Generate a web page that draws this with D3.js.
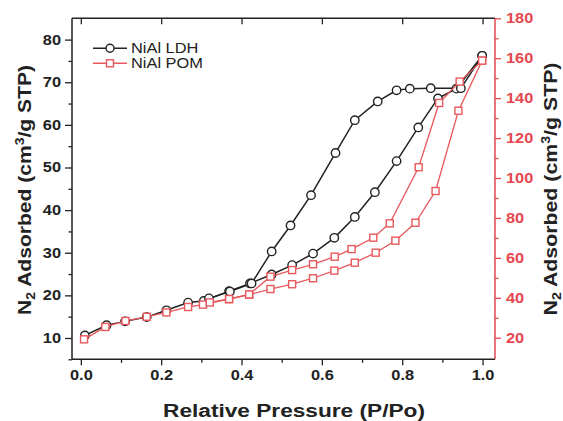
<!DOCTYPE html>
<html><head><meta charset="utf-8">
<script src="https://cdn.jsdelivr.net/npm/d3@7"></script>
<style>body{margin:0;background:#fff}svg{display:block}text{font-family:"Liberation Sans",Arial,Helvetica,sans-serif}</style>
</head><body><svg id="c" width="563" height="421"></svg>
<script>
// ---- data ----
const xTickValues = [0, 0.2, 0.4, 0.6, 0.8, 1.0];
const xMinorValues = [0.1, 0.3, 0.5, 0.7, 0.9];
const leftTickValues = [10, 20, 30, 40, 50, 60, 70, 80];
const leftMinorValues = [5, 15, 25, 35, 45, 55, 65, 75, 85];
const rightTickValues = [20, 40, 60, 80, 100, 120, 140, 160, 180];
const rightMinorValues = [30, 50, 70, 90, 110, 130, 150, 170];

const seriesNames = ["NiAl LDH", "NiAl POM"];

const ldhAdsX = [0.01,0.064,0.11,0.164,0.213,0.267,0.306,0.369,0.421,0.475,0.526,0.578,0.631,0.682,0.732,0.786,0.840,0.889,0.935,0.999];
const ldhAdsY = [10.6,13.0,13.9,14.9,16.5,18.3,18.7,21.0,22.8,24.9,27.1,29.8,33.5,38.4,44.2,51.5,59.4,66.2,68.5,76.2];
const ldhDesX = [0.999,0.946,0.871,0.819,0.786,0.739,0.682,0.634,0.573,0.522,0.475,0.425,0.371,0.319];
const ldhDesY = [76.2,68.6,68.6,68.5,68.1,65.5,61.1,53.4,43.5,36.4,30.3,22.8,20.9,19.3];

const pomAdsX = [0.008,0.061,0.111,0.164,0.213,0.267,0.304,0.369,0.419,0.472,0.526,0.578,0.631,0.682,0.734,0.783,0.833,0.883,0.940,0.999];
const pomAdsY = [19.2,25.4,28.4,30.5,32.7,35.4,36.6,39.3,41.6,44.4,46.8,49.8,53.6,57.6,62.6,68.6,77.6,93.5,133.7,158.8];
const pomDesX = [0.999,0.943,0.892,0.841,0.769,0.728,0.674,0.632,0.578,0.526,0.472,0.419,0.369,0.321];
const pomDesY = [158.8,148.3,137.6,105.4,77.3,70.1,64.4,60.6,56.8,53.9,50.6,41.7,39.4,37.7];

// ---- layout ----
const L = 72, R = 495, T = 18.3, B = 359.3;
const BLACK = "#222", RED = "#e5484f", RED_LINE = "#e8585c";
const svg = d3.select("#c");

const x = d3.scaleLinear().domain([-0.022, 1.031]).range([L, R]);
const yL = d3.scaleLinear().domain([5, 85]).range([B, T]);
const yR = d3.scaleLinear().domain([9.2, 180]).range([B, T]);

const fmt1 = d3.format(".1f");

// bottom axis
const gB = svg.append("g").attr("transform", `translate(0,${B})`)
  .call(d3.axisBottom(x).tickValues(xTickValues).tickFormat(fmt1).tickSize(6).tickPadding(5));
svg.append("g").attr("transform", `translate(0,${B})`)
  .call(d3.axisBottom(x).tickValues(xMinorValues).tickFormat("").tickSize(3.5));
// top ticks (inward)
svg.append("g").attr("transform", `translate(0,${T})`)
  .call(d3.axisBottom(x).tickValues(xTickValues).tickFormat("").tickSize(6));
// left axis
svg.append("g").attr("transform", `translate(${L},0)`)
  .call(d3.axisLeft(yL).tickValues(leftTickValues).tickFormat(d3.format("d")).tickSize(7).tickPadding(4));
svg.append("g").attr("transform", `translate(${L},0)`)
  .call(d3.axisLeft(yL).tickValues(leftMinorValues.filter(v=>v<85)).tickFormat("").tickSize(3.5));
// right axis
const gR = svg.append("g").attr("transform", `translate(${R},0)`)
  .call(d3.axisRight(yR).tickValues(rightTickValues).tickFormat(d3.format("d")).tickSize(6).tickPadding(5));
svg.append("g").attr("transform", `translate(${R},0)`)
  .call(d3.axisRight(yR).tickValues(rightMinorValues).tickFormat("").tickSize(3.5));

svg.selectAll(".domain").remove();
svg.selectAll(".tick line").attr("stroke", BLACK).attr("stroke-width", 1.3);
svg.selectAll(".tick text").attr("font-size", 14).attr("font-weight", "bold").attr("fill", BLACK);
gR.selectAll(".tick text").attr("fill", RED);
svg.selectAll("g").filter(function(){ return this.getAttribute("transform")===`translate(${R},0)`; })
  .selectAll(".tick line").attr("stroke", RED);

// frame lines
svg.append("line").attr("x1", L).attr("x2", R).attr("y1", T).attr("y2", T).attr("stroke", BLACK).attr("stroke-width", 1.5);
svg.append("line").attr("x1", L).attr("x2", R).attr("y1", B).attr("y2", B).attr("stroke", BLACK).attr("stroke-width", 1.5);
svg.append("line").attr("x1", L).attr("x2", L).attr("y1", T).attr("y2", B).attr("stroke", BLACK).attr("stroke-width", 1.5);
svg.append("line").attr("x1", R).attr("x2", R).attr("y1", T).attr("y2", B).attr("stroke", RED).attr("stroke-width", 1.5);

// series
function drawLine(xs, ys, ys_scale, color, w) {
  const pts = xs.map((v,i)=>[x(v), ys_scale(ys[i])]);
  svg.append("path").attr("d", d3.line()(pts)).attr("fill","none").attr("stroke",color).attr("stroke-width",w);
  return pts;
}
function circles(xs, ys) {
  svg.append("g").selectAll("circle").data(xs.map((v,i)=>[v,ys[i]])).join("circle")
    .attr("cx", d=>x(d[0])).attr("cy", d=>yL(d[1])).attr("r", 4.2)
    .attr("fill","#fff").attr("stroke", BLACK).attr("stroke-width",1.4);
}
function squares(xs, ys) {
  const s = 7;
  svg.append("g").selectAll("rect").data(xs.map((v,i)=>[v,ys[i]])).join("rect")
    .attr("x", d=>x(d[0])-s/2).attr("y", d=>yR(d[1])-s/2).attr("width", s).attr("height", s)
    .attr("fill","#fff").attr("stroke", RED_LINE).attr("stroke-width",1.4);
}
drawLine(ldhAdsX, ldhAdsY, yL, BLACK, 1.5);
drawLine(ldhDesX, ldhDesY, yL, BLACK, 1.5);
circles(ldhAdsX, ldhAdsY);
circles(ldhDesX, ldhDesY);
drawLine(pomAdsX, pomAdsY, yR, RED_LINE, 1.3);
drawLine(pomDesX, pomDesY, yR, RED_LINE, 1.3);
squares(pomAdsX, pomAdsY);
squares(pomDesX, pomDesY);

// legend
const lg = svg.append("g");
[[48.3, BLACK, "c"], [63.3, RED_LINE, "s"]].forEach((row, i) => {
  const [yy, col, m] = row;
  lg.append("line").attr("x1", 93).attr("x2", 127).attr("y1", yy).attr("y2", yy).attr("stroke", col).attr("stroke-width", 1.4);
  if (m === "c") lg.append("circle").attr("cx", 110).attr("cy", yy).attr("r", 4).attr("fill","#fff").attr("stroke", col).attr("stroke-width",1.4);
  else lg.append("rect").attr("x", 106.5).attr("y", yy-3.5).attr("width",7).attr("height",7).attr("fill","#fff").attr("stroke", col).attr("stroke-width",1.4);
  lg.append("text").attr("class","stretch").attr("x", 131).attr("y", yy+5).attr("font-size", 14).attr("fill", "#222").text(seriesNames[i]);
});

// axis titles
const xt = svg.append("text").attr("font-size", 18).attr("font-weight","bold").attr("fill", BLACK)
  .attr("text-anchor","middle").text("Relative Pressure (P/Po)");
function yTitle(color) {
  const t = svg.append("text").attr("font-size", 18).attr("font-weight","bold").attr("fill", color).attr("text-anchor","middle");
  t.append("tspan").text("N");
  t.append("tspan").attr("font-size", 12).attr("dy", 4).text("2");
  t.append("tspan").attr("dy", -4).text(" Adsorbed (cm");
  t.append("tspan").attr("font-size", 12).attr("dy", -7).text("3");
  t.append("tspan").attr("dy", 7).text("/g STP)");
  return t;
}
const yl = yTitle(BLACK), yr = yTitle(BLACK);
function fit(sel, target, tx, ty, rot) {
  const w = sel.node().getComputedTextLength();
  const k = target / w;
  sel.attr("transform", `translate(${tx},${ty}) rotate(${rot}) scale(${k},1)`);
}
fit(xt, 262, 294, 417, 0);
fit(yl, 250, 31, 190, -90);
fit(yr, 253, 557, 189, -90);

// stretch tick / legend text horizontally as in the reference
svg.selectAll(".tick text, text.stretch").each(function(){
  const w = this.getComputedTextLength();
  this.setAttribute("textLength", w*1.17);
  this.setAttribute("lengthAdjust", "spacingAndGlyphs");
});
</script></body></html>
